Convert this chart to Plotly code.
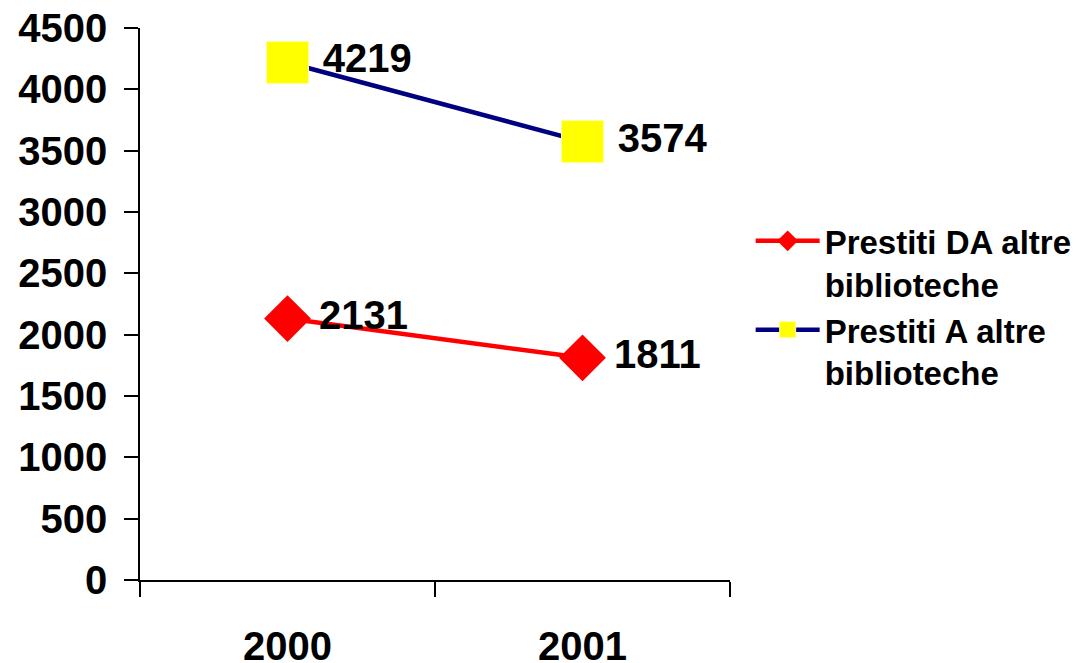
import plotly.graph_objects as go

years = ["2000", "2001"]
prestiti_da = [2131, 1811]
prestiti_a = [4219, 3574]
name_da = "Prestiti DA altre<br>biblioteche"
name_a = "Prestiti A altre<br>biblioteche"

FONT = "Liberation Sans, Arial, sans-serif"

fig = go.Figure()
fig.add_trace(go.Scatter(
    x=years, y=prestiti_da, name=name_da, mode="lines+markers+text",
    line=dict(color="#FF0000", width=4.5),
    marker=dict(symbol="diamond", size=36, color="#FF0000"),
    texttemplate="\u2009%{y}", textposition="middle right",
    textfont=dict(family=FONT, size=40, color="black", weight="bold"),
))
fig.add_trace(go.Scatter(
    x=years, y=prestiti_a, name=name_a, mode="lines+markers+text",
    line=dict(color="#000080", width=4.5),
    marker=dict(symbol="square", size=42, color="#FFFF00",
                line=dict(color="#FFFF99", width=1)),
    texttemplate="\u2009%{y}", textposition="middle right",
    textfont=dict(family=FONT, size=40, color="black", weight="bold"),
))

fig.update_layout(
    width=1091, height=663,
    margin=dict(l=132, r=369, t=20, b=91, autoexpand=False),
    paper_bgcolor="white", plot_bgcolor="white",
    font=dict(family=FONT, color="black", weight="bold"),
    showlegend=True,
    legend=dict(x=1.035, xanchor="left", y=0.665, yanchor="top",
                font=dict(family=FONT, size=33, color="black", weight="bold"),
                valign="top", tracegroupgap=10,
                itemwidth=64, bgcolor="rgba(0,0,0,0)"),
)
fig.update_xaxes(
    type="category", range=[-0.5, 1.5], tickson="boundaries",
    ticks="outside", ticklen=15, tickwidth=1.5, tickcolor="black",
    showline=True, linecolor="black", linewidth=1.5, showgrid=False,
    zeroline=False, ticklabelstandoff=30, automargin=False,
    ticklabeloverflow="allow",
    tickfont=dict(family=FONT, size=40, color="black", weight="bold"),
)
fig.update_yaxes(
    range=[0, 4500], dtick=500, tick0=0,
    ticks="outside", ticklen=14, tickwidth=1.5, tickcolor="black",
    showline=True, linecolor="black", linewidth=1.5, showgrid=False,
    zeroline=False, ticklabelstandoff=9, automargin=False,
    ticklabeloverflow="allow",
    tickfont=dict(family=FONT, size=40, color="black", weight="bold"),
)

fig.write_html("out.html")
